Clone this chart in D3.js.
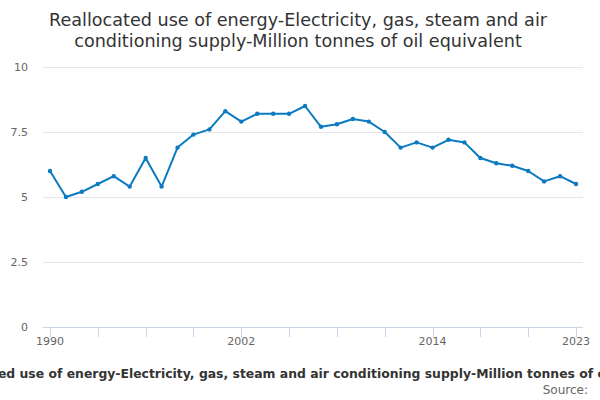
<!DOCTYPE html>
<html><head><meta charset="utf-8">
<script src="https://cdn.jsdelivr.net/npm/d3@7"></script>
<style>body{margin:0;background:#fff}svg{display:block;font-family:"DejaVu Sans",sans-serif}</style>
</head><body><svg id="c" width="600" height="400"></svg>
<script>
const years = d3.range(1990, 2024);
const values = [6.0,5.0,5.2,5.5,5.8,5.4,6.5,5.4,6.9,7.4,7.6,8.3,7.9,8.2,8.2,8.2,8.5,7.7,7.8,8.0,7.9,7.5,6.9,7.1,6.9,7.2,7.1,6.5,6.3,6.2,6.0,5.6,5.8,5.5];
const yTicks = [0,2.5,5,7.5,10];
const xTicks = d3.range(1990, 2024, 3);
const xLabels = [1990, 2002, 2014, 2023];
const titleLines = ["Reallocated use of energy-Electricity, gas, steam and air","conditioning supply-Million tonnes of oil equivalent"];
const axisTitle = "Reallocated use of energy-Electricity, gas, steam and air conditioning supply-Million tonnes of oil equivalent";

const svg = d3.select("#c");
const x = d3.scaleLinear().domain([1990, 2023]).range([50, 576]);
const y = d3.scaleLinear().domain([0, 10]).range([327, 67]);
const left = 43, right = 583;

svg.selectAll("text.title").data(titleLines).join("text")
  .attr("x", 298).attr("y", (d,i)=>26 + i*21).attr("text-anchor","middle")
  .attr("font-size", 17.6).attr("fill", "#333").text(d=>d);

// grid
svg.selectAll("line.grid").data(yTicks.filter(d=>d>0)).join("line")
  .attr("x1", left).attr("x2", right).attr("y1", d=>y(d)).attr("y2", d=>y(d))
  .attr("stroke", "#e6e6e6").attr("stroke-width", 1).attr("shape-rendering","crispEdges");
svg.selectAll("text.yl").data(yTicks).join("text")
  .attr("x", 28).attr("y", d=>y(d)+4).attr("text-anchor","end")
  .attr("font-size", 11).attr("fill", "#666").text(d=>d);

// x axis
svg.append("line").attr("x1", left).attr("x2", right).attr("y1", 327.5).attr("y2", 327.5)
  .attr("stroke", "#ccd6eb");
svg.selectAll("line.xt").data(xTicks).join("line")
  .attr("x1", d=>Math.round(x(d))+0.5).attr("x2", d=>Math.round(x(d))+0.5)
  .attr("y1", 327).attr("y2", 337).attr("stroke", "#ccd6eb");
svg.selectAll("text.xl").data(xLabels).join("text")
  .attr("x", d=>x(d)).attr("y", 345).attr("text-anchor","middle")
  .attr("font-size", 11).attr("fill", "#666").text(d=>d);

// line
const color = "#0b7bc1";
const pts = years.map((yr,i)=>[yr, values[i]]);
svg.append("path").datum(pts)
  .attr("d", d3.line().x(d=>x(d[0])).y(d=>y(d[1])))
  .attr("fill","none").attr("stroke", color).attr("stroke-width", 2).attr("stroke-linejoin","round");
svg.selectAll("circle.pt").data(pts).join("circle")
  .attr("cx", d=>x(d[0])).attr("cy", d=>y(d[1])).attr("r", 2.2).attr("fill", color);

svg.append("text").attr("x", 313).attr("y", 378).attr("text-anchor","middle")
  .attr("font-size", 12.4).attr("font-weight","bold").attr("fill","#333").text(axisTitle);
svg.append("text").attr("x", 588).attr("y", 394).attr("text-anchor","end")
  .attr("font-size", 12).attr("fill","#666").text("Source:");
</script></body></html>
